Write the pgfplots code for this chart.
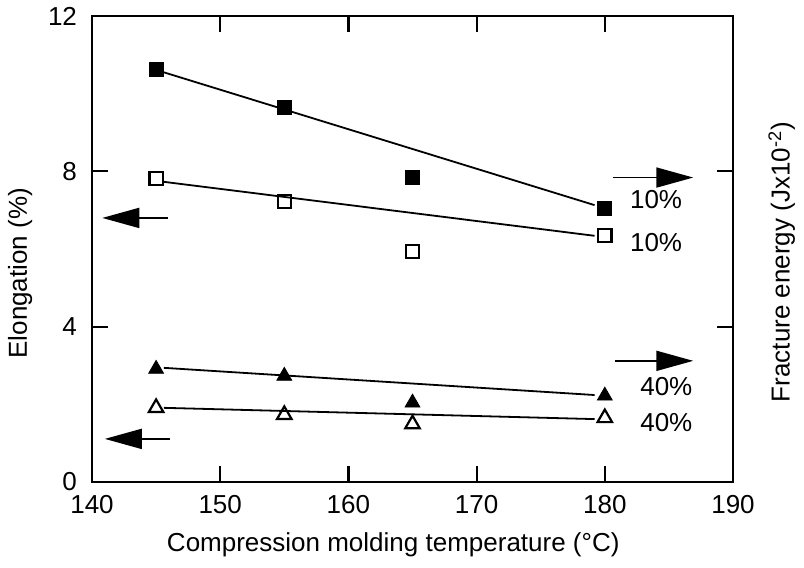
\documentclass[border=0pt]{standalone}
\usepackage{fontspec}
\setmainfont{Liberation Sans}
\usepackage{pgfplots}
\pgfplotsset{compat=1.18}
\usetikzlibrary{arrows.meta}
\begin{document}
\begin{tikzpicture}[font=\fontsize{13}{15}\selectfont]
\begin{axis}[name=ax, at={(0,0)}, anchor=south west,
  scale only axis, width=320.5pt, height=233pt,
  xmin=140, xmax=190, ymin=0, ymax=12,
  xtick={140,150,...,190}, ytick={0,4,8,12},
  tick align=inside, major tick length=8pt,
  axis line style={line width=1.2pt},
  every tick/.style={black, line width=1.1pt},
  /pgf/number format/assume math mode=true,
  yticklabel style={xshift=-4pt},
  xticklabel style={yshift=-3pt},
  clip=false,
  xlabel={Compression molding temperature (°C)},
  xlabel style={at={(axis description cs:0.47,-0.135)}, anchor=center},
  ylabel={Elongation (\%)},
  ylabel style={at={(axis description cs:-0.112,0.448)}, anchor=center},
]
% data points
\addplot[only marks, mark=square*, mark size=3.5pt, black] coordinates {(145,10.62) (155,9.64) (165,7.84) (180,7.04)};
\addplot[only marks, mark=square, mark size=3.3pt, black, mark options={line width=1.1pt}] coordinates {(145,7.81) (155,7.22) (165,5.93) (180,6.34)};
\addplot[only marks, mark=triangle*, mark size=4.3pt, black] coordinates {(145,2.91) (155,2.73) (165,2.04) (180,2.22)};
\addplot[only marks, mark=triangle, mark size=4.2pt, black, mark options={line width=1.1pt}] coordinates {(145,1.91) (155,1.73) (165,1.49) (180,1.65)};
% fitted lines
\addplot[no marks, black, line width=0.9pt] coordinates {(145.6,10.55) (179.2,7.13)};
\addplot[no marks, black, line width=0.9pt] coordinates {(145.6,7.73) (179.2,6.34)};
\addplot[no marks, black, line width=0.9pt] coordinates {(145.6,2.94) (179.2,2.24)};
\addplot[no marks, black, line width=0.9pt] coordinates {(145.6,1.91) (179.2,1.62)};
% arrows
\draw[line width=0.9pt, -{Triangle[length=18.5pt,width=10pt]}] (axis cs:145.9,6.80) -- (axis cs:140.8,6.80);
\draw[line width=0.9pt, -{Triangle[length=18.5pt,width=10pt]}] (axis cs:146.1,1.11) -- (axis cs:141.0,1.11);
\draw[line width=0.9pt, -{Triangle[length=18.5pt,width=10pt]}] (axis cs:180.6,7.84) -- (axis cs:186.9,7.84);
\draw[line width=0.9pt, -{Triangle[length=18.5pt,width=10pt]}] (axis cs:180.8,3.12) -- (axis cs:186.9,3.12);
% labels
\node at (axis cs:184.0,7.27) {10\%};
\node at (axis cs:184.0,6.16) {10\%};
\node at (axis cs:184.8,2.45) {40\%};
\node at (axis cs:184.8,1.52) {40\%};
\node[rotate=90, anchor=center] at (axis description cs:1.076,0.472) {Fracture energy (Jx10\textsuperscript{-2})};
\end{axis}
\pgfresetboundingbox
\path[use as bounding box] ([shift={(-46pt,-42.5pt)}]ax.south west) rectangle ([shift={(35.5pt,8pt)}]ax.north east);
\end{tikzpicture}
\end{document}
